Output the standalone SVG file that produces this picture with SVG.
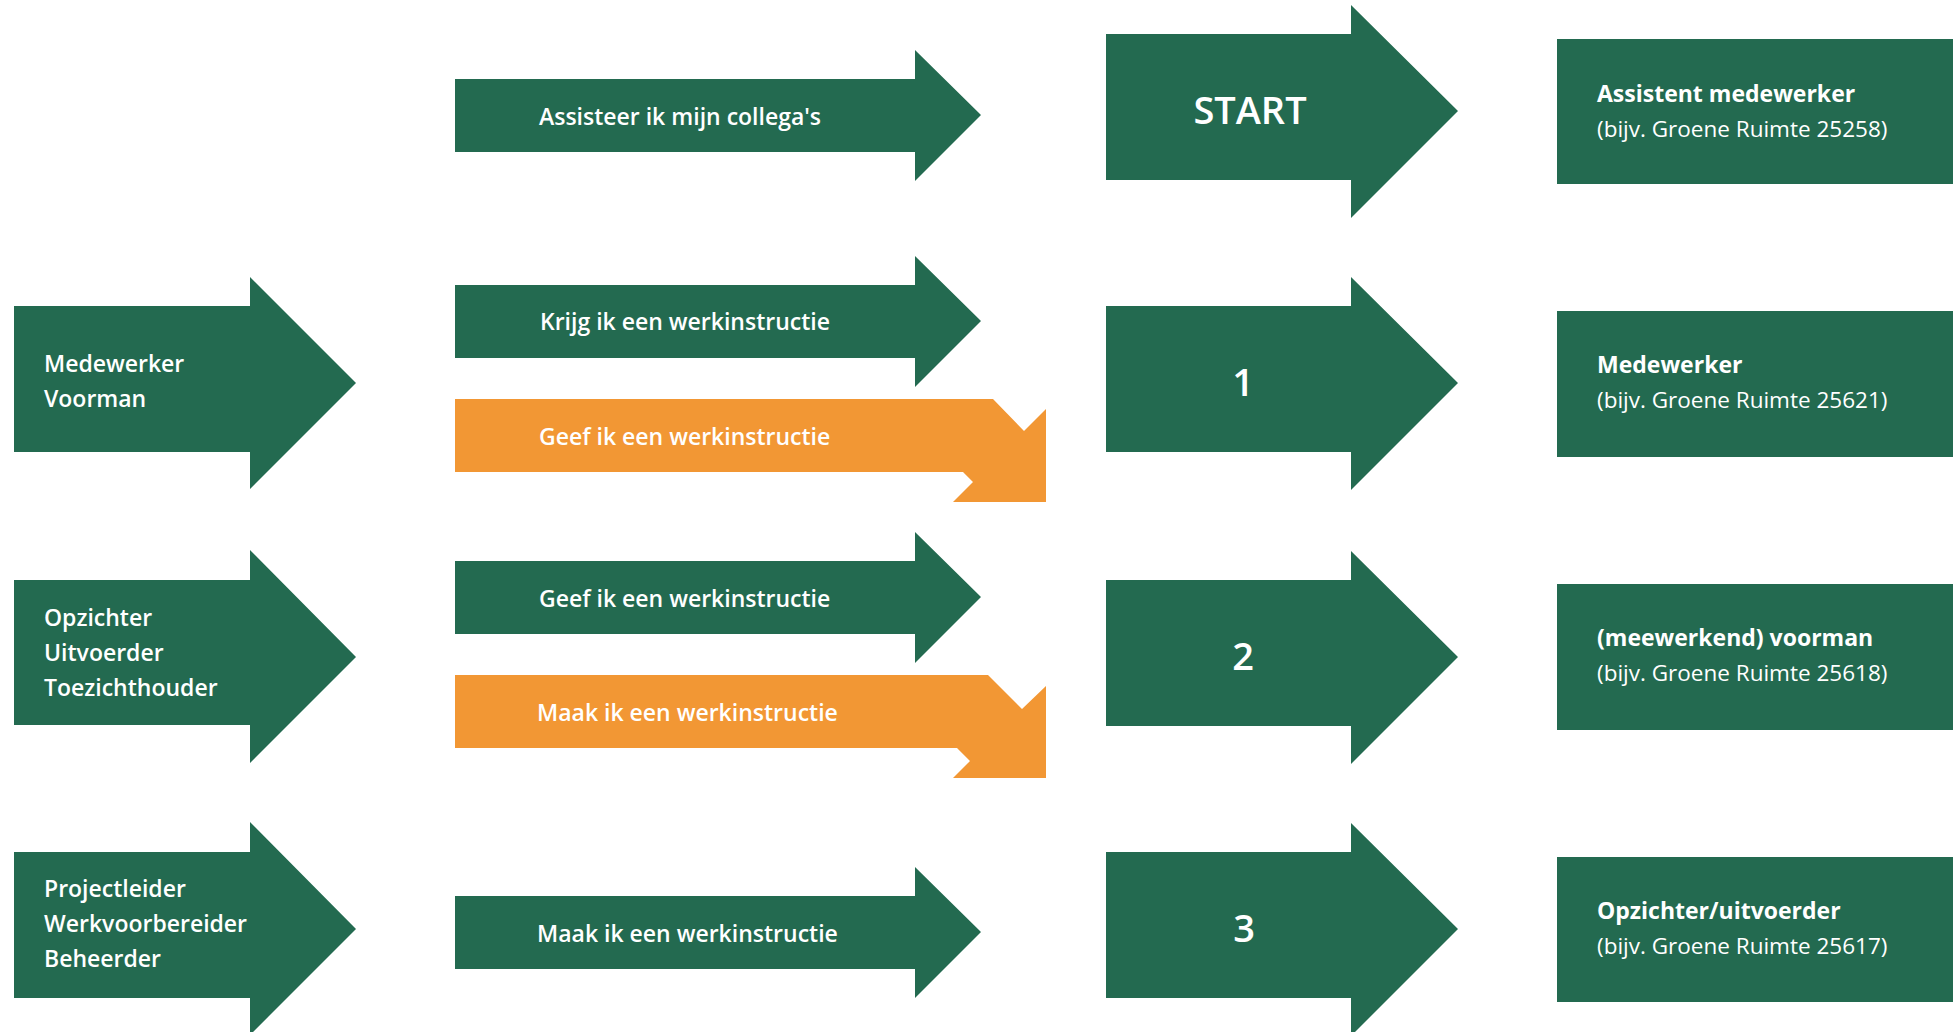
<svg xmlns="http://www.w3.org/2000/svg" width="1953" height="1032" viewBox="0 0 1953 1032">
<style>
.g{fill:#236a50}
.o{fill:#f29734}
text{font-family:"Open Sans","Noto Sans","Liberation Sans",sans-serif;fill:#ffffff}
.mid{font-size:23px;font-weight:600}
.left{font-size:23px;font-weight:600}
.num{font-size:38px;font-weight:600}
.bt{font-size:23px;font-weight:700}
.bs{font-size:22.5px;font-weight:400}
</style>
<rect width="1953" height="1032" fill="#ffffff"/>
<g id="connectors"></g>
<g id="left-medewerker">
<polygon class="g" points="14,306 250,306 250,277 356,383 250,489 250,452 14,452"/>
<text class="left" x="44" y="372">Medewerker</text>
<text class="left" x="44" y="407">Voorman</text>
</g>
<g id="left-opzichter">
<polygon class="g" points="14,580 250,580 250,550 356,657 250,763 250,725 14,725"/>
<text class="left" x="44" y="626">Opzichter</text>
<text class="left" x="44" y="661">Uitvoerder</text>
<text class="left" x="44" y="696">Toezichthouder</text>
</g>
<g id="left-projectleider">
<polygon class="g" points="14,852 250,852 250,822 356,929 250,1035 250,998 14,998"/>
<text class="left" x="44" y="897">Projectleider</text>
<text class="left" x="44" y="932">Werkvoorbereider</text>
<text class="left" x="44" y="967">Beheerder</text>
</g>
<g id="mid-assisteer">
<polygon class="g" points="455,79 915,79 915,50 981,115 915,181 915,152 455,152"/>
<text class="mid" x="539" y="125">Assisteer ik mijn collega's</text>
</g>
<g id="mid-krijg">
<polygon class="g" points="455,285 915,285 915,256 981,321 915,387 915,358 455,358"/>
<text class="mid" x="540" y="330">Krijg ik een werkinstructie</text>
</g>
<g id="mid-geef-orange">
<polygon class="o" points="455,399 993,399 1024,431 1046,409 1046,502 953,502 973,482 963,472 455,472"/>
<text class="mid" x="539" y="445">Geef ik een werkinstructie</text>
</g>
<g id="mid-geef">
<polygon class="g" points="455,561 915,561 915,532 981,597 915,663 915,634 455,634"/>
<text class="mid" x="539" y="607">Geef ik een werkinstructie</text>
</g>
<g id="mid-maak-orange">
<polygon class="o" points="455,675 988,675 1022,709 1046,686 1046,778 953,778 970,761 957,748 455,748"/>
<text class="mid" x="537" y="721">Maak ik een werkinstructie</text>
</g>
<g id="mid-maak">
<polygon class="g" points="455,896 915,896 915,867 981,932 915,998 915,969 455,969"/>
<text class="mid" x="537" y="942">Maak ik een werkinstructie</text>
</g>
<g id="step-start">
<polygon class="g" points="1106,34 1351,34 1351,5 1458,111 1351,218 1351,180 1106,180"/>
<text class="num" x="1250" y="124" text-anchor="middle">START</text>
</g>
<g id="step-1">
<polygon class="g" points="1106,306 1351,306 1351,277 1458,383 1351,490 1351,452 1106,452"/>
<text class="num" x="1243" y="396" text-anchor="middle">1</text>
</g>
<g id="step-2">
<polygon class="g" points="1106,580 1351,580 1351,551 1458,657 1351,764 1351,726 1106,726"/>
<text class="num" x="1243" y="670" text-anchor="middle">2</text>
</g>
<g id="step-3">
<polygon class="g" points="1106,852 1351,852 1351,823 1458,929 1351,1036 1351,998 1106,998"/>
<text class="num" x="1244" y="942" text-anchor="middle">3</text>
</g>
<g id="role-assistent">
<rect class="g" x="1557" y="39" width="396" height="145"/>
<text class="bt" x="1597" y="102">Assistent medewerker</text>
<text class="bs" x="1597" y="137">(bijv. Groene Ruimte 25258)</text>
</g>
<g id="role-medewerker">
<rect class="g" x="1557" y="311" width="396" height="146"/>
<text class="bt" x="1597" y="373">Medewerker</text>
<text class="bs" x="1597" y="408">(bijv. Groene Ruimte 25621)</text>
</g>
<g id="role-voorman">
<rect class="g" x="1557" y="584" width="396" height="146"/>
<text class="bt" x="1597" y="646">(meewerkend) voorman</text>
<text class="bs" x="1597" y="681">(bijv. Groene Ruimte 25618)</text>
</g>
<g id="role-opzichter">
<rect class="g" x="1557" y="857" width="396" height="145"/>
<text class="bt" x="1597" y="919">Opzichter/uitvoerder</text>
<text class="bs" x="1597" y="954">(bijv. Groene Ruimte 25617)</text>
</g>
</svg>
